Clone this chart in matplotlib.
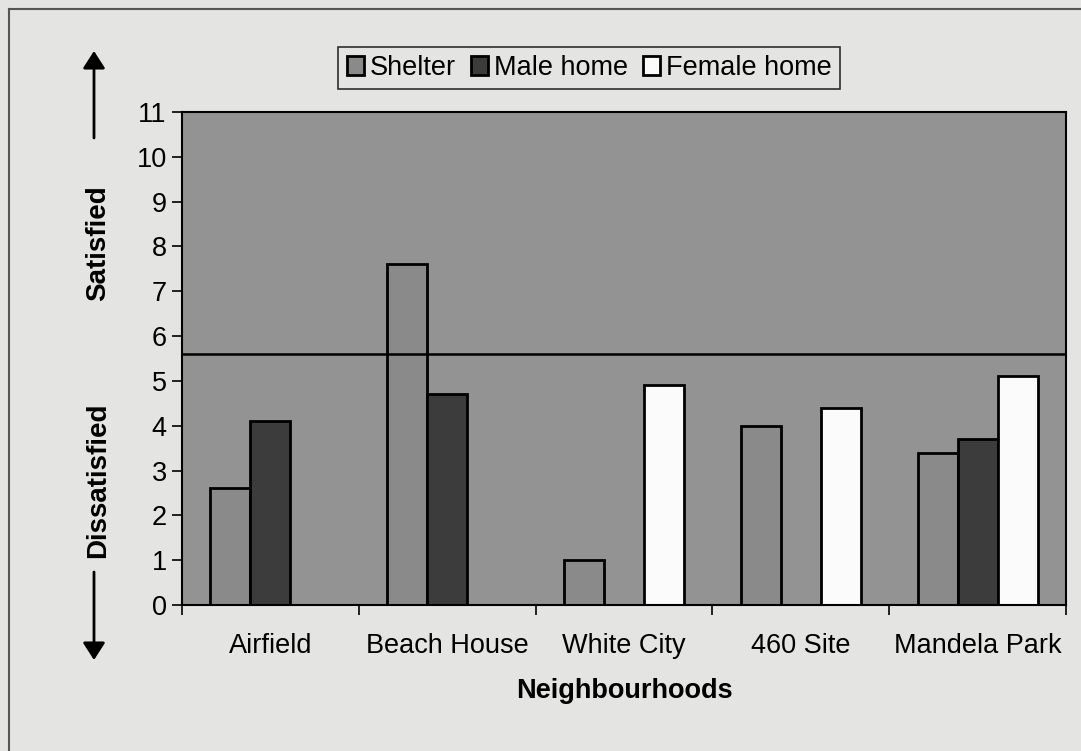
import numpy as np
import matplotlib.pyplot as plt
from matplotlib.lines import Line2D
from matplotlib.patches import FancyArrowPatch

# Datos
barrios = ['Airfield', 'Beach House', 'White City', '460 Site', 'Mandela Park']
shelter = [2.6, 7.6, 1.0, 4.0, 3.4]
male_home = [4.1, 4.7, 0, 0, 3.7]
female_home = [0, 0, 4.9, 4.4, 5.1]
umbral = 5.6

plt.rcParams['font.family'] = ['Liberation Sans', 'DejaVu Sans']
fs = 19.5

fig = plt.figure(figsize=(10.81, 7.51), dpi=100, facecolor='#e4e4e2')
ax = fig.add_axes([182 / 1081, 1 - 605 / 751, (1066 - 182) / 1081, (605 - 112) / 751])
ax.set_facecolor('#939393')

x = np.arange(len(barrios))
w = 0.226
series = [(shelter, '#8a8a8a', 'Shelter'),
          (male_home, '#3c3c3c', 'Male home'),
          (female_home, '#fbfbfb', 'Female home')]
for i, (vals, col, lab) in enumerate(series):
    ax.bar(x + (i - 1) * w, vals, width=w, color=col, edgecolor='black',
           linewidth=2, label=lab, zorder=2)

# Línea de separación satisfecho / insatisfecho
ax.axhline(umbral, color='black', linewidth=1.8, zorder=3)

ax.set_xlim(-0.5, len(barrios) - 0.5)
ax.set_ylim(0, 11)
ax.set_yticks(range(0, 12))
ax.set_xticks(np.arange(-0.5, len(barrios), 1.0))
ax.set_xticklabels([])
ax.set_xticks(x, minor=True)
ax.set_xticklabels(barrios, minor=True, fontsize=fs)
ax.tick_params(axis='x', which='minor', length=0, pad=20)
ax.tick_params(axis='x', which='major', length=7, direction='out', width=1.2)
ax.tick_params(axis='y', labelsize=fs, length=7, width=1.2, pad=4)
for s in ax.spines.values():
    s.set_linewidth(1.5)
ax.set_xlabel('Neighbourhoods', fontsize=fs, fontweight='bold', labelpad=14)

# Etiquetas y flechas del eje y
fig.text(98 / 1081, 1 - 243 / 751, 'Satisfied', rotation=90, fontsize=20,
         fontweight='bold', ha='center', va='center')
fig.text(98 / 1081, 1 - 480 / 751, 'Dissatisfied', rotation=90, fontsize=20,
         fontweight='bold', ha='center', va='center')
for y0, y1 in [(138, 51), (572, 660)]:
    fig.add_artist(FancyArrowPatch(
        (94 / 1081, 1 - y0 / 751), (94 / 1081, 1 - y1 / 751),
        transform=fig.transFigure, arrowstyle='-|>,head_length=7,head_width=4.5',
        color='black', linewidth=2, mutation_scale=1.5, shrinkA=0, shrinkB=0))

# Marco exterior (solo arriba e izquierda visibles)
fig.add_artist(Line2D([9 / 1081, 1], [1 - 9 / 751, 1 - 9 / 751],
                      transform=fig.transFigure, color='#555555', linewidth=1.5))
fig.add_artist(Line2D([9 / 1081, 9 / 1081], [0, 1 - 9 / 751],
                      transform=fig.transFigure, color='#555555', linewidth=1.5))

leg = fig.legend(loc='center', bbox_to_anchor=(589 / 1081, 1 - 68 / 751), ncol=3,
                 fontsize=fs, frameon=True, fancybox=False, handlelength=0.65,
                 handleheight=0.65, handletextpad=0.2, columnspacing=0.55,
                 borderpad=0.3, edgecolor='black', facecolor='#e4e4e2')
leg.get_frame().set_linewidth(1.2)
for h in leg.legend_handles:
    h.set_linewidth(2)

fig.savefig('out.png', dpi=100, facecolor=fig.get_facecolor())
